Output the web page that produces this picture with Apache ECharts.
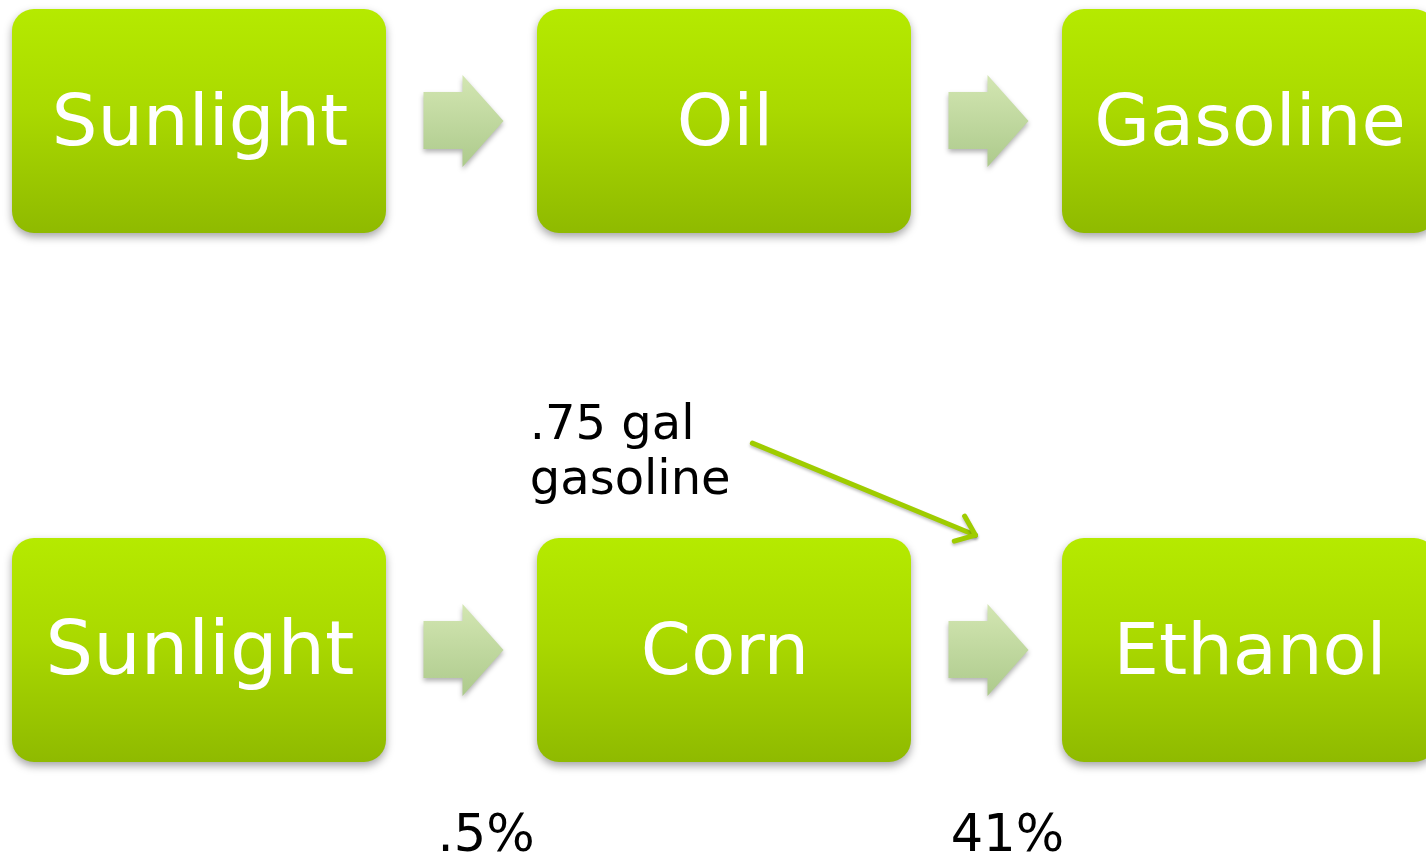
<!DOCTYPE html>
<html>
<head>
	<meta charset="utf-8">
	<title>Sunlight to fuel</title>
	<script src="https://cdn.jsdelivr.net/npm/echarts@6/dist/echarts.min.js"></script>
	<style>body{margin:0;background:#fff}</style>
</head>
<body>
<div id="chart" style="width:1426px;height:853px"></div>
<script>
	// stage boxes: [label, column, row]
	const stages = [
		['Sunlight', 0, 0], ['Oil', 1, 0], ['Gasoline', 2, 0],
		['Sunlight', 0, 1], ['Corn', 1, 1], ['Ethanol', 2, 1]
	];
	// block arrows between columns: [fromCol, toCol, row]
	const flows = [[0, 1, 0], [1, 2, 0], [0, 1, 1], [1, 2, 1]];
	// free text notes: [text, column, row]
	const notes = [
		['.75 gal\ngasoline', 0.63, 0.63],
		['.5%', 0.547, 1.355],
		['41%', 1.54, 1.355]
	];
	// the extra input arrow (start, end)
	const inputLink = [[1.054, 0.609], [1.479, 0.783]];

	const boxW = 374, boxH = 224;
	const boxFill = {
		type: 'linear', x: 0, y: 0, x2: 0, y2: 1,
		colorStops: [{offset: 0, color: '#b5ea00'}, {offset: 0.45, color: '#aad900'}, {offset: 1, color: '#8fba00'}]
	};
	const arrowFill = {
		type: 'linear', x: 0, y: 0, x2: 0, y2: 1,
		colorStops: [{offset: 0, color: '#d3e6b2'}, {offset: 1, color: '#adca8c'}]
	};

	function renderBox(params, api) {
		const c = api.coord([api.value(1), api.value(2)]);
		const label = stages[params.dataIndex][0];
		const big = label === 'Sunlight' && api.value(2) === 1;
		return {
			type: 'group',
			children: [{
				type: 'rect',
				shape: {x: c[0] - boxW / 2, y: c[1] - boxH / 2, width: boxW, height: boxH, r: 22},
				style: {fill: boxFill, shadowBlur: 8, shadowOffsetY: 4, shadowColor: 'rgba(0,0,0,0.35)'}
			}, {
				type: 'text',
				x: c[0] + 1, y: c[1] + 5,
				style: {
					text: label, fill: '#fff', fontFamily: 'DejaVu Sans', fontSize: big ? 75 : 72,
					align: 'center', verticalAlign: 'middle'
				}
			}]
		};
	}

	function renderFlow(params, api) {
		const f = flows[params.dataIndex];
		const c = api.coord([(f[0] + f[1]) / 2, f[2]]);
		const x = c[0] + 2, y = c[1];
		const pts = [
			[x - 40, y - 29], [x - 1, y - 29], [x - 1, y - 46], [x + 40, y],
			[x - 1, y + 46], [x - 1, y + 28], [x - 40, y + 28]
		];
		return {
			type: 'polygon',
			shape: {points: pts},
			style: {fill: arrowFill, shadowBlur: 5, shadowOffsetY: 3, shadowColor: 'rgba(0,0,0,0.3)'}
		};
	}

	function renderNote(params, api) {
		const n = notes[params.dataIndex];
		const c = api.coord([n[1], n[2]]);
		const multi = n[0].indexOf('\n') >= 0;
		return {
			type: 'text',
			x: c[0], y: c[1],
			style: {
				text: n[0], fill: '#000', fontFamily: 'DejaVu Sans',
				fontSize: multi ? 48 : 51, lineHeight: 55,
				align: multi ? 'left' : 'center', verticalAlign: 'middle'
			}
		};
	}

	function renderLink(params, api) {
		const a = api.coord(inputLink[0]), b = api.coord(inputLink[1]);
		const ang = Math.atan2(b[1] - a[1], b[0] - a[0]);
		const len = 22, spread = 38 * Math.PI / 180;
		const h1 = [b[0] - len * Math.cos(ang - spread), b[1] - len * Math.sin(ang - spread)];
		const h2 = [b[0] - len * Math.cos(ang + spread), b[1] - len * Math.sin(ang + spread)];
		const ls = {stroke: '#9fcc00', lineWidth: 5, lineCap: 'round', lineJoin: 'round', fill: null,
			shadowBlur: 3, shadowOffsetY: 2, shadowColor: 'rgba(0,0,0,0.25)'};
		return {
			type: 'group',
			children: [
				{type: 'line', shape: {x1: a[0], y1: a[1], x2: b[0], y2: b[1]}, style: ls},
				{type: 'polyline', shape: {points: [h1, b, h2]}, style: ls}
			]
		};
	}

	const chart = echarts.init(document.getElementById('chart'));
	chart.setOption({
		animation: false,
		grid: {left: 199, right: 177, top: 121, bottom: 203},
		xAxis: {type: 'value', min: 0, max: 2, show: false},
		yAxis: {type: 'value', min: 0, max: 1, inverse: true, show: false},
		series: [
			{type: 'custom', renderItem: renderBox, data: stages, clip: false, silent: true},
			{type: 'custom', renderItem: renderFlow, data: flows, clip: false, silent: true},
			{type: 'custom', renderItem: renderNote, data: notes.map(n => [n[1], n[2]]), clip: false, silent: true},
			{type: 'custom', renderItem: renderLink, data: [inputLink[0]], clip: false, silent: true}
		]
	});
</script>
</body>
</html>
